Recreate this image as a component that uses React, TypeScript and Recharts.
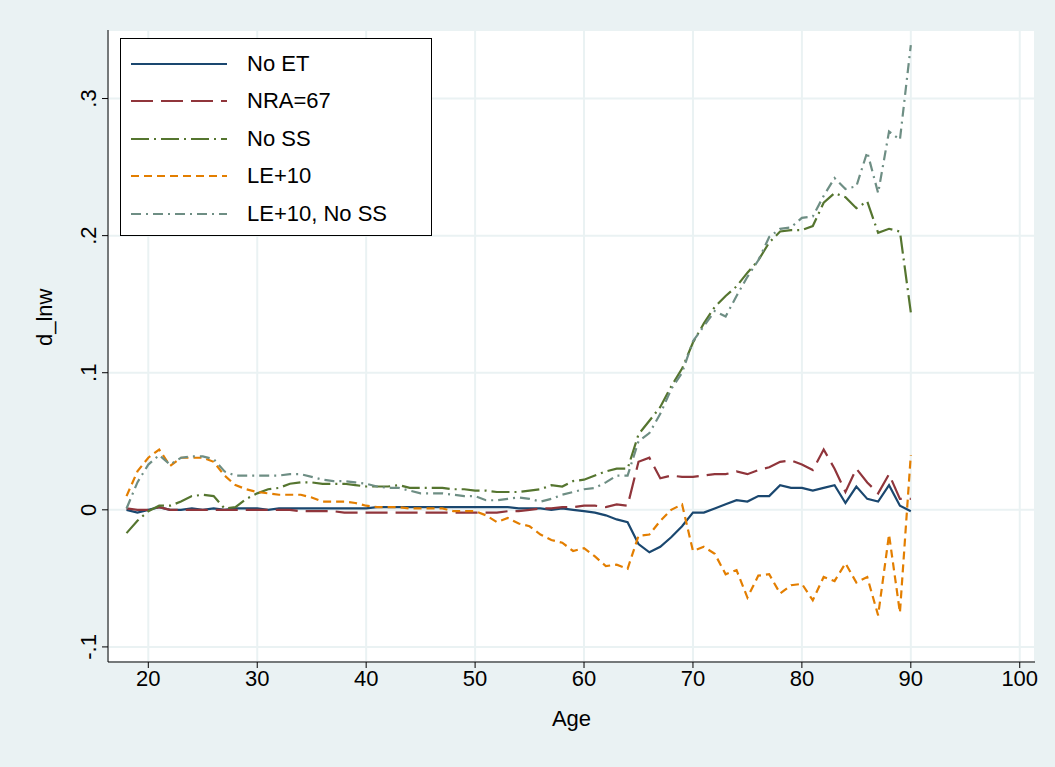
import { CartesianGrid, Line, LineChart, XAxis, YAxis } from 'recharts';

const ages = Array.from({ length: 73 }, (_, i) => 18 + i);

const noET = [
  0, -0.002, 0, 0.002, 0, 0, 0.001, 0, 0.001, 0, 0.001, 0.001, 0.001, 0, 0.001, 0.001, 0.001, 0.001, 0.001, 0.001,
  0.001, 0.001, 0.001, 0.002, 0.002, 0.002, 0.002, 0.002, 0.002, 0.002, 0.002, 0.002, 0.002, 0.002, 0.002, 0.002, 0.001, 0.001, 0.001, 0,
  0.001, 0, -0.001, -0.002, -0.004, -0.007, -0.009, -0.025, -0.031, -0.027, -0.02, -0.012, -0.002, -0.002, 0.001, 0.004, 0.007, 0.006, 0.01, 0.01,
  0.018, 0.016, 0.016, 0.014, 0.016, 0.018, 0.005, 0.017, 0.008, 0.006, 0.018, 0.003, -0.001,
];
const nra67 = [
  0.001, 0, 0, 0.002, 0, 0, 0, 0, 0, 0, 0, 0, 0, 0, 0, 0, -0.001, -0.001, -0.001, -0.001,
  -0.002, -0.002, -0.002, -0.002, -0.002, -0.002, -0.002, -0.002, -0.002, -0.002, -0.002, -0.002, -0.002, -0.002, -0.002, -0.001, -0.001, 0, 0.001, 0.001,
  0.002, 0.002, 0.003, 0.003, 0.002, 0.004, 0.003, 0.035, 0.038, 0.023, 0.025, 0.024, 0.024, 0.025, 0.026, 0.026, 0.028, 0.026, 0.029, 0.031,
  0.035, 0.036, 0.033, 0.029, 0.044, 0.03, 0.013, 0.03, 0.02, 0.012, 0.026, 0.008, 0.008,
];
const noSS = [
  -0.017, -0.008, -0.001, 0.003, 0.003, 0.006, 0.01, 0.011, 0.01, 0.001, 0.002, 0.008, 0.012, 0.015, 0.016, 0.019, 0.02, 0.02, 0.019, 0.019,
  0.019, 0.018, 0.017, 0.017, 0.017, 0.018, 0.016, 0.016, 0.016, 0.016, 0.015, 0.015, 0.014, 0.014, 0.013, 0.013, 0.013, 0.014, 0.015, 0.018,
  0.017, 0.021, 0.022, 0.025, 0.028, 0.03, 0.03, 0.055, 0.065, 0.075, 0.09, 0.103, 0.122, 0.136, 0.148, 0.156, 0.163, 0.173, 0.182, 0.195,
  0.203, 0.204, 0.204, 0.207, 0.224, 0.231, 0.228, 0.22, 0.225, 0.202, 0.205, 0.203, 0.144,
];
const le10 = [
  0.01, 0.028, 0.038, 0.044, 0.032, 0.038, 0.038, 0.038, 0.035, 0.025, 0.018, 0.015, 0.013, 0.012, 0.011, 0.011, 0.011, 0.009, 0.006, 0.006,
  0.006, 0.005, 0.003, 0.002, 0.002, 0.002, 0.001, 0.001, 0.001, 0.001, -0.001, -0.001, -0.001, -0.004, -0.009, -0.006, -0.01, -0.012, -0.018, -0.022,
  -0.024, -0.03, -0.028, -0.034, -0.041, -0.04, -0.043, -0.019, -0.018, -0.008, 0, 0.004, -0.03, -0.027, -0.032, -0.047, -0.044, -0.064, -0.048, -0.047,
  -0.061, -0.055, -0.054, -0.066, -0.049, -0.052, -0.039, -0.053, -0.049, -0.077, -0.018, -0.075, 0.04,
];
const le10NoSS = [
  0.001, 0.02, 0.033, 0.04, 0.033, 0.038, 0.039, 0.039, 0.037, 0.028, 0.025, 0.025, 0.025, 0.025, 0.025, 0.026, 0.026, 0.024, 0.022, 0.021,
  0.021, 0.02, 0.019, 0.017, 0.016, 0.016, 0.014, 0.012, 0.012, 0.012, 0.011, 0.01, 0.01, 0.007, 0.007, 0.008, 0.009, 0.008, 0.006, 0.008,
  0.011, 0.013, 0.015, 0.016, 0.02, 0.025, 0.025, 0.05, 0.056, 0.07, 0.088, 0.1, 0.123, 0.134, 0.145, 0.141, 0.156, 0.17, 0.182, 0.199,
  0.205, 0.206, 0.213, 0.214, 0.229, 0.242, 0.234, 0.236, 0.261, 0.231, 0.276, 0.27, 0.339,
];

const data = ages.map((age, i) => ({
  age,
  noET: noET[i],
  nra67: nra67[i],
  noSS: noSS[i],
  le10: le10[i],
  le10NoSS: le10NoSS[i],
}));

const series = [
  { key: 'noET', name: 'No ET', color: '#1a476f', dash: undefined },
  { key: 'nra67', name: 'NRA=67', color: '#90353b', dash: '22 8' },
  { key: 'noSS', name: 'No SS', color: '#55752f', dash: '18 5 2 5' },
  { key: 'le10', name: 'LE+10', color: '#e37e00', dash: '8 5' },
  { key: 'le10NoSS', name: 'LE+10, No SS', color: '#6e8e84', dash: '10 5 2 5' },
];

const xTicks = [20, 30, 40, 50, 60, 70, 80, 90, 100];
const yTicks = [-0.1, 0, 0.1, 0.2, 0.3];
const fmtY = (v: number) => (v === 0 ? '0' : v.toFixed(1).replace('0.', '.'));
const font = '"Liberation Sans", Arial, sans-serif';

const YTick = ({ x, y, payload }: any) => (
  <text x={x - 4} y={y} transform={`rotate(-90 ${x - 4} ${y})`} textAnchor="middle" fontSize={22} fill="#000" fontFamily={font}>
    {fmtY(payload.value)}
  </text>
);

export default function App() {
  return (
    <div style={{ position: 'absolute', left: 0, top: 0, width: 1055, height: 767, background: '#eaf2f3', fontFamily: font }}>
      <LineChart width={1055} height={767} data={data} margin={{ top: 30, right: 20, left: 0, bottom: 0 }}>
        <CartesianGrid stroke="#eaf2f3" strokeWidth={2} fill="#ffffff" fillOpacity={1} />
        <XAxis
          dataKey="age"
          type="number"
          domain={[16.3, 101.4]}
          ticks={xTicks}
          height={105}
          stroke="#000"
          tickSize={6}
          tick={{ fill: '#000', fontSize: 22, fontFamily: font }}
          label={{ value: 'Age', position: 'insideTop', offset: 48, fill: '#000', fontSize: 22, fontFamily: font }}
        />
        <YAxis
          type="number"
          domain={[-0.111, 0.35]}
          ticks={yTicks}
          width={108}
          stroke="#000"
          tickSize={6}
          tick={<YTick />}
          label={{ value: 'd_lnw', angle: -90, position: 'insideLeft', offset: 44, fill: '#000', fontSize: 22, fontFamily: font }}
        />
        {series.map((s) => (
          <Line
            key={s.key}
            dataKey={s.key}
            name={s.name}
            stroke={s.color}
            strokeWidth={2.2}
            strokeDasharray={s.dash}
            dot={false}
            type="linear"
            isAnimationActive={false}
          />
        ))}
      </LineChart>
      <div style={{ position: 'absolute', left: 120, top: 38, width: 312, height: 198, background: '#fff', border: '1px solid #000', boxSizing: 'border-box', padding: '6px 0 0 10px' }}>
        {series.map((s) => (
          <div key={s.key} style={{ display: 'flex', alignItems: 'center', height: 37.5 }}>
            <svg width={96} height={10}>
              <line x1={0} y1={5} x2={96} y2={5} stroke={s.color} strokeWidth={2.2} strokeDasharray={s.dash} />
            </svg>
            <span style={{ marginLeft: 20, fontSize: 22 }}>{s.name}</span>
          </div>
        ))}
      </div>
    </div>
  );
}
